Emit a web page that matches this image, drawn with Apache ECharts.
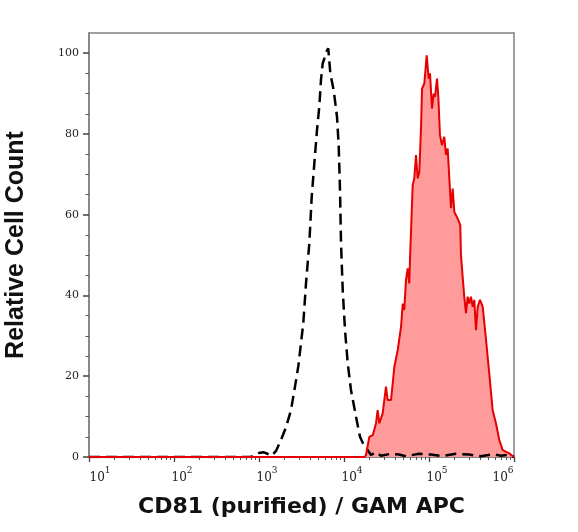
<!DOCTYPE html>
<html><head><meta charset="utf-8">
<script src="https://cdn.jsdelivr.net/npm/echarts@6/dist/echarts.min.js"></script>
<style>html,body{margin:0;padding:0;background:#fff}#c{width:578px;height:532px}</style>
</head><body><div id="c"></div>
<script>
// Tick labels / positions (x in log10 units of fluorescence intensity)
const xTickExponents = [1, 2, 3, 4, 5, 6];
const xMinorMultipliers = [2, 3, 4, 5, 6, 7, 8, 9];
const yTickValues = [0, 20, 40, 60, 80, 100];
const yMinorValues = [5, 10, 15, 25, 30, 35, 45, 50, 55, 65, 70, 75, 85, 90, 95];

// Isotype control (black dashed) – log10 intensity and relative count
const isotypeLogX = [1.0, 2.9, 2.97, 3.0, 3.05, 3.1, 3.15, 3.2, 3.259, 3.32, 3.376, 3.42, 3.462, 3.521, 3.553, 3.592, 3.62, 3.651, 3.682, 3.709, 3.729, 3.749, 3.8, 3.815, 3.839, 3.879, 3.918, 3.938, 3.953, 3.965, 3.985, 4.012, 4.044, 4.082, 4.141, 4.188, 4.232, 4.279, 4.318, 4.376, 4.435, 4.553, 4.647, 4.729, 4.882, 5.024, 5.153, 5.318, 5.471, 5.612, 5.753, 5.847, 5.941, 6.0];
const isotypeCount = [0, 0, 0.6, 1.0, 1.2, 0.8, 0.3, 1.5, 4.2, 7.5, 11.6, 17, 22.4, 33.1, 43, 52.9, 64.4, 72.7, 80.9, 86.7, 93.3, 97.4, 100.7, 101.2, 95, 90.8, 84.2, 76.8, 66.1, 52.9, 41.3, 31.4, 23.2, 16.6, 10, 5, 3, 1.7, 0.5, 1.2, 0.3, 0.8, 0.6, 0.2, 0.8, 0.6, 0.2, 0.8, 0.6, 0.2, 0.7, 0.3, 0.6, 0];

// CD81 stained (red filled)
const cd81LogX = [1.0, 4.24, 4.259, 4.298, 4.338, 4.376, 4.396, 4.415, 4.455, 4.494, 4.514, 4.553, 4.573, 4.592, 4.632, 4.671, 4.691, 4.709, 4.729, 4.749, 4.768, 4.78, 4.808, 4.827, 4.847, 4.867, 4.886, 4.906, 4.918, 4.945, 4.973, 4.996, 5.012, 5.035, 5.055, 5.071, 5.094, 5.109, 5.129, 5.153, 5.18, 5.2, 5.22, 5.239, 5.259, 5.279, 5.298, 5.338, 5.368, 5.376, 5.396, 5.415, 5.435, 5.455, 5.474, 5.494, 5.514, 5.533, 5.553, 5.573, 5.6, 5.632, 5.671, 5.709, 5.749, 5.788, 5.827, 5.867, 5.945, 5.996, 6.0];
const cd81Count = [0, 0, 0.5, 5, 5.4, 8.3, 11.6, 8.3, 10.8, 17.4, 14.1, 14.1, 18.2, 22.3, 26.5, 32.2, 38, 36.4, 43.8, 46.7, 43, 51, 67.3, 69, 74.8, 69, 70.6, 81.4, 91.2, 92.5, 99.5, 93.7, 95, 86.3, 90, 89.2, 93.7, 89.6, 79.7, 77.2, 79.3, 74.8, 76.4, 69, 61.6, 66.5, 60.7, 59, 57.4, 50, 44.6, 39.7, 35.6, 39.7, 38, 39.7, 37.2, 38.9, 31.4, 37.2, 38.9, 37.2, 29, 20.7, 11.6, 8.3, 4.2, 1.7, 0.9, 0, 0];

const zip = (xs, ys) => xs.map((x, i) => [x, ys[i]]);
const xMinorTicks = [];
xTickExponents.slice(0, -1).forEach(e => xMinorMultipliers.forEach(m => xMinorTicks.push(e + Math.log10(m))));

const axisGray = '#808080';
const labelColor = '#222';
const chart = echarts.init(document.getElementById('c'));
chart.setOption({
  animation: false,
  backgroundColor: '#fff',
  grid: { left: 89, right: 64, top: 33, bottom: 75, show: true, borderColor: axisGray, borderWidth: 1.5, outerBoundsMode: 'none' },
  xAxis: [{
    type: 'value', min: 1, max: 6,
    name: 'CD81 (purified) / GAM APC', nameLocation: 'middle', nameGap: 39,
    nameTextStyle: { fontFamily: 'DejaVu Sans', fontWeight: 'bold', fontSize: 22, color: '#111' },
    axisLine: { lineStyle: { color: axisGray, width: 1.5 } },
    splitLine: { show: false },
    axisTick: { customValues: xTickExponents, length: 5, lineStyle: { color: '#444', width: 1.3 } },
    axisLabel: {
      customValues: xTickExponents, margin: 14, color: labelColor,
      formatter: function (v) {
        const e = Math.round(v);
        if (e === 1) return '{f|10}{s|' + e + '}';
        if (e === 6) return '{b|10}{sl|' + e + '}';
        return '{m|10}{s|' + e + '}';
      },
      rich: {
        f: { fontFamily: 'DejaVu Serif', fontSize: 12, lineHeight: 13, verticalAlign: 'bottom', padding: [0, 0, 0, 22], color: labelColor },
        m: { fontFamily: 'DejaVu Serif', fontSize: 12, lineHeight: 13, verticalAlign: 'bottom', padding: [0, 0, 0, 16], color: labelColor },
        b: { fontFamily: 'DejaVu Serif', fontSize: 12, lineHeight: 13, verticalAlign: 'bottom', color: labelColor },
        s: { fontFamily: 'DejaVu Serif', fontSize: 9, lineHeight: 10, verticalAlign: 'bottom', padding: [0, 0, 9, 0], color: labelColor },
        sl: { fontFamily: 'DejaVu Serif', fontSize: 9, lineHeight: 10, verticalAlign: 'bottom', padding: [0, 22, 9, 0], color: labelColor }
      }
    }
  }, {
    type: 'value', min: 1, max: 6, position: 'bottom',
    axisLine: { show: false }, splitLine: { show: false },
    axisTick: { customValues: xMinorTicks, length: 3, lineStyle: { color: '#555', width: 1 } },
    axisLabel: { show: false }
  }],
  yAxis: [{
    type: 'value', min: 0, max: 105,
    name: 'Relative Cell Count', nameLocation: 'middle', nameGap: 60, nameRotate: 90,
    nameTextStyle: { fontFamily: 'Liberation Sans', fontWeight: 'bold', fontSize: 25, color: '#111' },
    axisLine: { show: true, lineStyle: { color: axisGray, width: 1.5 } },
    splitLine: { show: false },
    axisTick: { show: true, customValues: yTickValues, length: 6, lineStyle: { color: '#444', width: 1.5 } },
    axisLabel: { customValues: yTickValues, margin: 10, fontFamily: 'DejaVu Serif', fontSize: 11, color: labelColor }
  }, {
    type: 'value', min: 0, max: 105, position: 'left',
    axisLine: { show: false }, splitLine: { show: false },
    axisTick: { show: true, customValues: yMinorValues, length: 3.5, lineStyle: { color: '#555', width: 1 } },
    axisLabel: { show: false }
  }],
  series: [{
    name: 'CD81 fill', type: 'line', z: 1, showSymbol: false, silent: true,
    data: zip(cd81LogX, cd81Count),
    lineStyle: { width: 0 },
    areaStyle: { color: '#ff9b9b', opacity: 1 }
  }, {
    name: 'Isotype control', type: 'line', z: 2, showSymbol: false,
    data: zip(isotypeLogX, isotypeCount),
    lineStyle: { color: '#000', width: 2.5, type: [11, 6] }
  }, {
    name: 'CD81', type: 'line', z: 3, showSymbol: false,
    data: zip(cd81LogX, cd81Count),
    lineStyle: { color: '#e60000', width: 2 }
  }]
});
</script>
</body></html>
